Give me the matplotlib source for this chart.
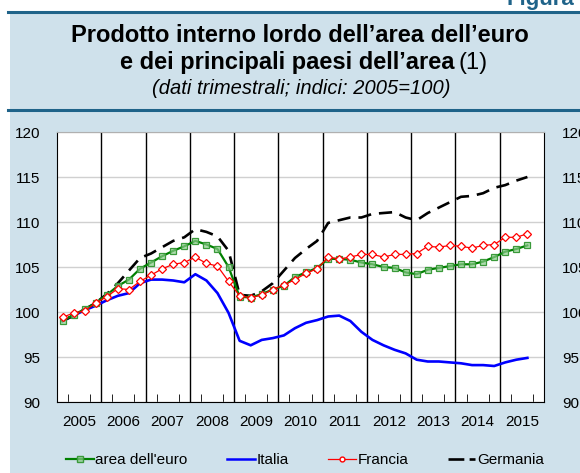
import matplotlib
matplotlib.use("Agg")
import matplotlib.pyplot as plt
from matplotlib.patches import Rectangle
from matplotlib.lines import Line2D
import numpy as np

plt.rcParams['font.family'] = ['Liberation Sans', 'DejaVu Sans']

# quarterly data, 2005Q1 - 2015Q3 (indices 2005=100)
years = [str(y) for y in range(2005, 2016)]
area_euro = [99.0, 99.7, 100.3, 101.0, 101.9, 102.9, 103.6, 104.8, 105.5, 106.2,
             106.8, 107.3, 107.9, 107.5, 107.0, 105.0, 101.7, 101.6, 102.0, 102.5,
             102.9, 103.9, 104.4, 104.9, 105.9, 105.9, 105.8, 105.5, 105.3, 105.0,
             104.9, 104.4, 104.2, 104.7, 104.9, 105.1, 105.3, 105.3, 105.6, 106.1,
             106.7, 107.0, 107.4]
italia = [99.0, 99.6, 100.2, 100.7, 101.3, 101.8, 102.1, 103.2, 103.6, 103.6,
          103.5, 103.3, 104.2, 103.5, 102.1, 99.9, 96.8, 96.3, 96.9, 97.1,
          97.4, 98.2, 98.8, 99.1, 99.5, 99.6, 99.0, 97.8, 96.9, 96.3,
          95.8, 95.4, 94.7, 94.5, 94.5, 94.4, 94.3, 94.1, 94.1, 94.0,
          94.4, 94.7, 94.9]
francia = [99.4, 99.9, 100.1, 101.0, 101.7, 102.6, 102.5, 103.4, 104.1, 104.8,
           105.3, 105.5, 106.1, 105.4, 105.1, 103.4, 101.8, 101.6, 101.9, 102.5,
           103.0, 103.6, 104.3, 104.8, 106.1, 105.9, 106.1, 106.4, 106.4, 106.1,
           106.4, 106.4, 106.5, 107.3, 107.2, 107.4, 107.3, 107.1, 107.4, 107.5,
           108.3, 108.3, 108.7]
germania = [99.0, 99.6, 100.3, 101.0, 102.0, 103.2, 104.6, 106.0, 106.5, 107.2,
            107.9, 108.3, 109.2, 108.9, 108.4, 106.8, 101.9, 101.8, 102.3, 103.2,
            104.6, 106.0, 107.0, 107.9, 109.9, 110.2, 110.5, 110.5, 110.9, 111.0,
            111.1, 110.5, 110.2, 111.0, 111.6, 112.2, 112.8, 112.9, 113.2, 113.8,
            114.1, 114.6, 115.0]

bg = '#cfe1eb'
teal = '#1f6389'

fig = plt.figure(figsize=(5.8, 4.73), dpi=100, facecolor='white')
W, H = 580, 473

# light blue panel and header rules
fig.patches.append(Rectangle((10 / W, 0), 1, (H - 11) / H, transform=fig.transFigure,
                             facecolor=bg, edgecolor='none', zorder=-10))
for yy in (12, 110):
    fig.add_artist(Line2D([8 / W, 1], [1 - yy / H] * 2, color=teal, lw=2.2))

fig.text(507 / W, 1 - 5 / H, "Figura", ha='left', va='baseline', fontsize=16,
         fontweight='bold', color=teal)

fig.text(300 / W, 1 - 36 / H, "Prodotto interno lordo dell\u2019area dell\u2019euro",
         ha='center', va='center', fontsize=17, fontweight='bold')
fig.text(455 / W, 1 - 63 / H, "e dei principali paesi dell\u2019area",
         ha='right', va='center', fontsize=17, fontweight='bold')
fig.text(459 / W, 1 - 63 / H, "(1)", ha='left', va='center', fontsize=17)
fig.text(301 / W, 1 - 89 / H, "(dati trimestrali; indici: 2005=100)",
         ha='center', va='center', fontsize=14.5, style='italic')

ax = fig.add_axes([57 / W, 1 - 402 / H, 487 / W, 270 / H])
ax.set_facecolor('white')

n = len(area_euro)
x = np.arange(n) + 0.5

ax.plot(x, italia, color='#0000ff', lw=1.9, zorder=3)
ax.plot(x, germania, color='black', lw=1.9, dashes=(5, 3), zorder=4)
ax.plot(x, area_euro, color='#008000', lw=1.6, marker='s', ms=5,
        mfc=(0.55, 0.8, 0.55, 0.7), mec='#3a9a3a', mew=0.9, zorder=5)
ax.plot(x, francia, color='#ff0000', lw=0.9, marker='D', ms=3.8,
        mfc='white', mec='#ff0000', mew=0.9, zorder=6)

nq = 4 * len(years)
ax.set_xlim(0, nq)
ax.set_ylim(90, 120)
ax.set_yticks(range(90, 121, 5))
ax.grid(axis='y', color='#d0d0d0', lw=1)
ax.set_axisbelow(True)

for k in range(4, nq, 4):
    ax.axvline(k, color='black', lw=1, zorder=2)

ax.set_xticks([4 * i + 2 for i in range(len(years))])
ax.set_xticklabels(years)
ax.set_xticks([q for q in range(1, nq) if q % 4], minor=True)
ax.tick_params(axis='x', which='major', length=0, pad=9, labelsize=11)
ax.tick_params(axis='x', which='minor', direction='in', length=6, color='black')
ax.tick_params(axis='y', length=0, pad=12, labelsize=11)
for s in ('left', 'bottom', 'right'):
    ax.spines[s].set_color('black')
ax.spines['top'].set_color('#b0b0b0')

ax2 = ax.twinx()
ax2.set_ylim(90, 120)
ax2.set_yticks(range(90, 121, 5))
ax2.tick_params(axis='y', length=0, pad=13, labelsize=11)
for s in ax2.spines.values():
    s.set_visible(False)

handles = [
    Line2D([], [], color='#008000', lw=1.6, marker='s', ms=4,
           mfc=(0.55, 0.8, 0.55, 0.7), mec='#3a9a3a'),
    Line2D([], [], color='#0000ff', lw=1.8),
    Line2D([], [], color='#ff0000', lw=0.9, marker='o', ms=3.5, mfc='white', mec='#ff0000'),
    Line2D([], [], color='black', lw=1.9, dashes=(6, 2)),
]
labels = ["area dell'euro", "Italia", "Francia", "Germania"]
fig.legend(handles, labels, loc='center', bbox_to_anchor=(305 / W, 1 - 460 / H),
           ncol=4, frameon=False, fontsize=11, handlelength=1.8,
           handletextpad=0.1, columnspacing=2.6)

fig.savefig("out.png", dpi=100, facecolor='white')
